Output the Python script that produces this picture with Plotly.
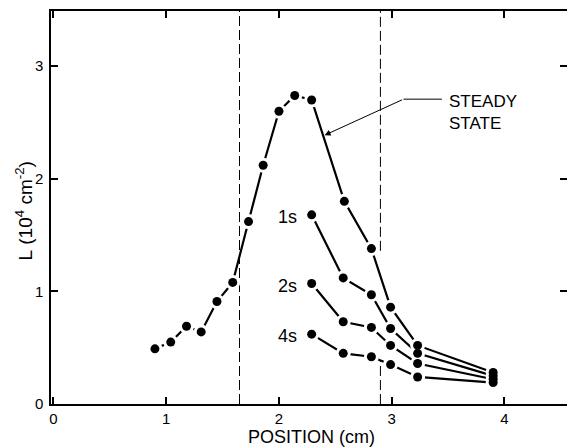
import plotly.graph_objects as go

# ---- data ----
x_steady = [0.90, 1.04, 1.18, 1.31, 1.45, 1.59, 1.73, 1.86, 2.00, 2.14, 2.29, 2.58, 2.82, 2.99, 3.23, 3.90]
l_steady = [0.49, 0.55, 0.69, 0.64, 0.91, 1.08, 1.62, 2.12, 2.60, 2.74, 2.70, 1.80, 1.38, 0.86, 0.52, 0.28]

x_trans = [2.29, 2.57, 2.82, 2.99, 3.23, 3.90]
l_1s = [1.68, 1.12, 0.97, 0.67, 0.45, 0.25]
l_2s = [1.07, 0.73, 0.68, 0.52, 0.36, 0.22]
l_4s = [0.62, 0.45, 0.42, 0.35, 0.24, 0.19]

series_names = ["STEADY STATE", "1s", "2s", "4s"]
boundary_left = 1.65
boundary_right = 2.90

x_ticks = [0, 1, 2, 3, 4]
y_ticks = [0, 1, 2, 3]
x_range = [-0.022, 4.555]
y_range = [0, 3.49]

FONT = "Liberation Sans, Arial, sans-serif"

series = [(x_steady, l_steady), (x_trans, l_1s), (x_trans, l_2s), (x_trans, l_4s)]

fig = go.Figure()
# lines
for (xs, ys), nm in zip(series, series_names):
    fig.add_trace(go.Scatter(x=xs, y=ys, mode="lines", name=nm,
                             line=dict(color="black", width=2.2), showlegend=False,
                             hoverinfo="skip"))
# white halos (gaps between line and markers)
for (xs, ys), nm in zip(series, series_names):
    fig.add_trace(go.Scatter(x=xs, y=ys, mode="markers", name=nm,
                             marker=dict(color="white", size=15), showlegend=False,
                             hoverinfo="skip"))
# black markers
for (xs, ys), nm in zip(series, series_names):
    fig.add_trace(go.Scatter(x=xs, y=ys, mode="markers", name=nm,
                             marker=dict(color="black", size=9), showlegend=False))
# empty trace to hold the right-side tick axis
fig.add_trace(go.Scatter(x=[], y=[], yaxis="y2", showlegend=False, hoverinfo="skip"))

# dashed boundaries
dash = "10px,4px"
fig.add_shape(type="line", xref="x", yref="paper", x0=boundary_left, x1=boundary_left,
              y0=0, y1=1, line=dict(color="black", width=1, dash=dash), layer="below")
fig.add_shape(type="line", xref="x", yref="y", x0=boundary_right, x1=boundary_right,
              y0=1.36, y1=y_range[1], line=dict(color="black", width=1, dash=dash), layer="below")
fig.add_shape(type="line", xref="x", yref="y", x0=boundary_right, x1=boundary_right,
              y0=0, y1=0.38, line=dict(color="black", width=1, dash=dash), layer="below")

# leader line + arrow for STEADY STATE
fig.add_shape(type="line", xref="x", yref="y", x0=3.105, x1=3.445, y0=2.707, y1=2.707,
              line=dict(color="black", width=1))
fig.add_annotation(x=2.405, y=2.387, ax=3.105, ay=2.707, xref="x", yref="y",
                   axref="x", ayref="y", text="", showarrow=True,
                   arrowhead=2, arrowsize=1.2, arrowwidth=1, arrowcolor="black")
fig.add_annotation(x=3.49, y=2.59, xref="x", yref="y", text="STEADY<br>STATE",
                   showarrow=False, xanchor="left", yanchor="middle", align="left",
                   font=dict(family=FONT, size=17, color="black"))

# time labels
for lab, yv in zip(["1s", "2s", "4s"], [l_1s[0], l_2s[0], l_4s[0]]):
    fig.add_annotation(x=1.975, y=yv - 0.02, xref="x", yref="y", text=lab, showarrow=False,
                       xanchor="left", yanchor="middle",
                       font=dict(family=FONT, size=18, color="black"))

# axis titles
fig.add_annotation(x=0.504, y=-0.083, xref="paper", yref="paper", text="POSITION (cm)",
                   showarrow=False, xanchor="center", yanchor="middle",
                   font=dict(family=FONT, size=18, color="black"))
fig.add_annotation(x=-0.052, y=0.49, xref="paper", yref="paper",
                   text="L&nbsp;(10<sup>4</sup>&nbsp;cm<sup>-2</sup>)", textangle=-90,
                   showarrow=False, xanchor="center", yanchor="middle",
                   font=dict(family=FONT, size=19, color="black"))

fig.update_layout(
    template="none",
    width=567, height=448,
    margin=dict(l=51, r=0, t=11, b=44, autoexpand=False),
    paper_bgcolor="white", plot_bgcolor="white",
    font=dict(family=FONT, size=15, color="black"),
    xaxis=dict(range=x_range, tickvals=x_ticks, ticktext=[str(v) for v in x_ticks],
               ticks="inside", ticklen=7, tickwidth=1.5, tickcolor="black",
               showline=True, linecolor="black", linewidth=1.5, mirror="ticks",
               showgrid=False, zeroline=False, ticklabelstandoff=0, automargin=False,
               tickfont=dict(family=FONT, size=15, color="black")),
    yaxis=dict(range=y_range, tickvals=y_ticks, ticktext=[str(v) for v in y_ticks],
               ticks="inside", ticklen=7, tickwidth=1.5, tickcolor="black",
               showline=True, linecolor="black", linewidth=1.5,
               showgrid=False, zeroline=False, ticklabelstandoff=3, automargin=False,
               tickfont=dict(family=FONT, size=15, color="black")),
    yaxis2=dict(range=y_range, overlaying="y", side="right", tickvals=y_ticks[1:],
                ticks="inside", ticklen=7, tickwidth=1.5, tickcolor="black",
                showticklabels=False, showline=False, showgrid=False, zeroline=False,
                automargin=False),
)

fig.write_html("out.html", config={"displayModeBar": False},
               post_script="document.body.style.margin='0';document.body.style.overflow='hidden';")
